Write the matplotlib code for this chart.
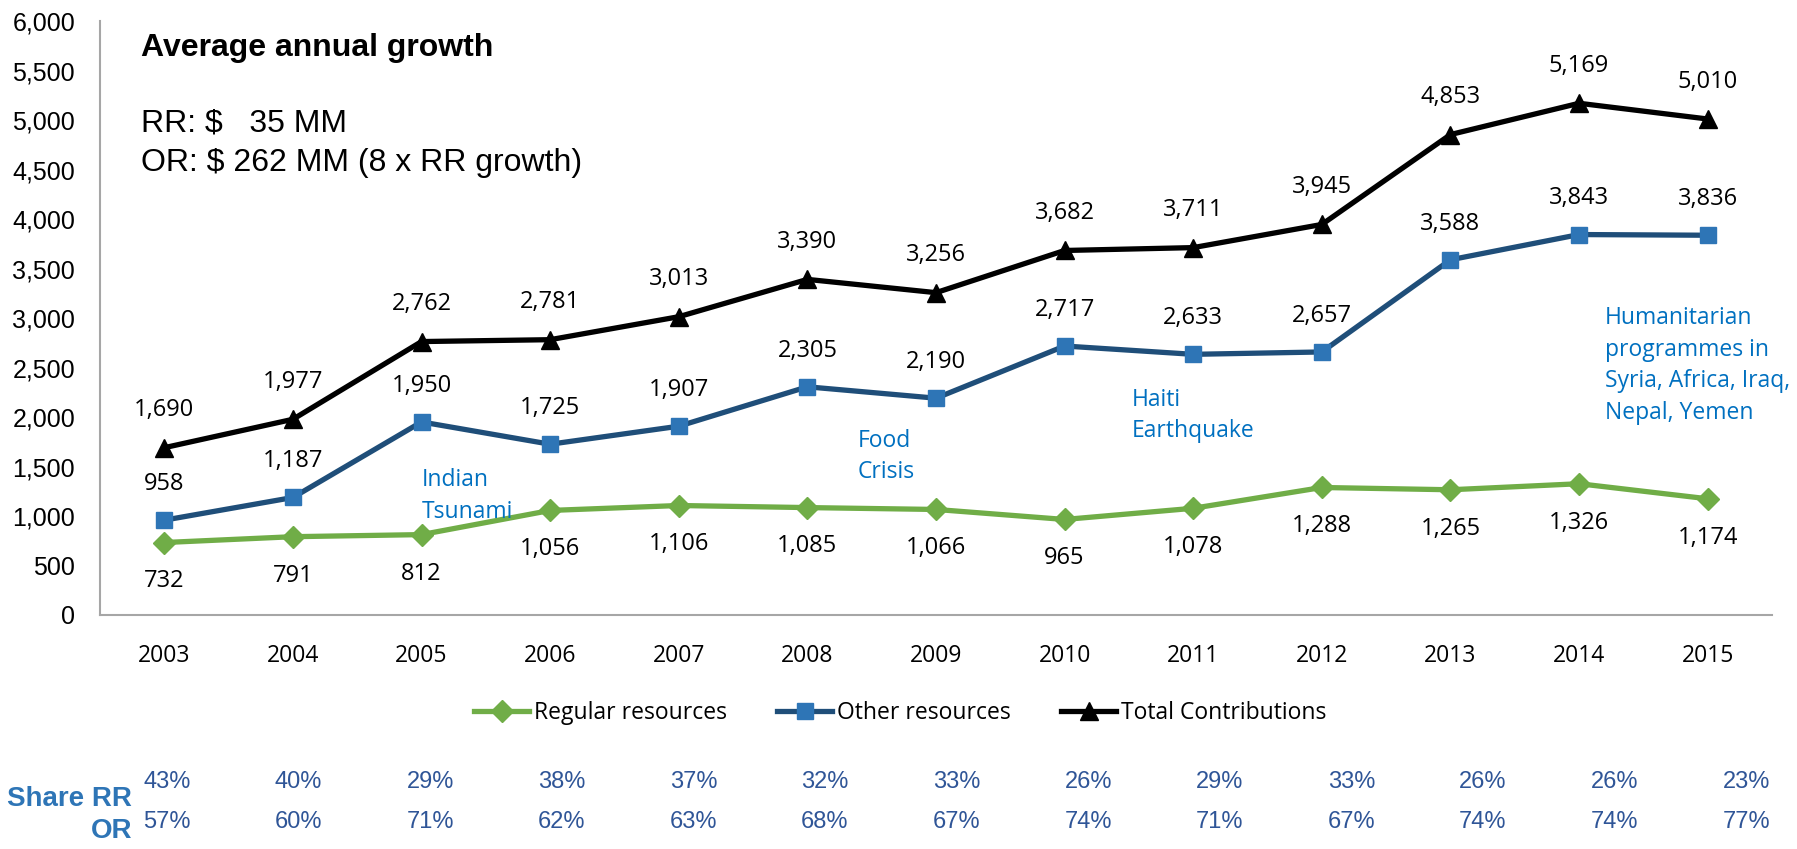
import matplotlib
matplotlib.use("Agg")
import matplotlib.pyplot as plt
from matplotlib.ticker import FuncFormatter, MultipleLocator

years = ["2003", "2004", "2005", "2006", "2007", "2008", "2009",
         "2010", "2011", "2012", "2013", "2014", "2015"]
regular = [732, 791, 812, 1056, 1106, 1085, 1066, 965, 1078, 1288, 1265, 1326, 1174]
other = [958, 1187, 1950, 1725, 1907, 2305, 2190, 2717, 2633, 2657, 3588, 3843, 3836]
total = [1690, 1977, 2762, 2781, 3013, 3390, 3256, 3682, 3711, 3945, 4853, 5169, 5010]
share_rr = ["43%", "40%", "29%", "38%", "37%", "32%", "33%", "26%", "29%", "33%", "26%", "26%", "23%"]
share_or = ["57%", "60%", "71%", "62%", "63%", "68%", "67%", "74%", "71%", "67%", "74%", "74%", "77%"]

events = [
    (2.0, 1200, "Indian\nTsunami"),
    (5.39, 1600, "Food\nCrisis"),
    (7.52, 2015, "Haiti\nEarthquake"),
    (11.2, 2520, "Humanitarian\nprogrammes in\nSyria, Africa, Iraq,\nNepal, Yemen"),
]

W, H = 1797, 849
fig = plt.figure(figsize=(W / 100, H / 100), dpi=100)
ax = fig.add_axes([100 / W, 1 - 615 / H, (1772 - 100) / W, (615 - 21) / H])

label_font = "Open Sans"
x = list(range(len(years)))

ax.plot(x, regular, "-D", color="#70AD47", lw=3.8, ms=11, mfc="#70AD47", mec="#70AD47",
        label="Regular resources", zorder=3)
ax.plot(x, other, "-s", color="#1F4E79", lw=3.8, ms=12, mfc="#2E75B6", mec="#2E75B6",
        label="Other resources", zorder=3)
ax.plot(x, total, "-^", color="black", lw=3.8, ms=13, label="Total Contributions", zorder=3)

for i in x:
    ax.annotate(f"{total[i]:,}", (i, total[i]), xytext=(0, 27), textcoords="offset points",
                ha="center", va="center", fontsize=17, family=label_font)
    ax.annotate(f"{other[i]:,}", (i, other[i]), xytext=(0, 26), textcoords="offset points",
                ha="center", va="center", fontsize=17, family=label_font)
    ax.annotate(f"{regular[i]:,}", (i, regular[i]), xytext=(0, -28), textcoords="offset points",
                ha="center", va="center", fontsize=17, family=label_font)

for ex, ey, txt in events:
    ax.text(ex, ey, txt, ha="left", va="center", fontsize=16.5, family=label_font,
            color="#0070C0", linespacing=1.42)

ax.set_xlim(-0.5, len(years) - 0.5)
ax.set_ylim(0, 6000)
ax.yaxis.set_major_locator(MultipleLocator(500))
ax.yaxis.set_major_formatter(FuncFormatter(lambda v, p: f"{int(v):,}"))
ax.set_xticks(x)
ax.set_xticklabels(years, family=label_font, fontsize=16.5)
for t in ax.get_yticklabels():
    t.set_family("Liberation Sans")
    t.set_fontsize(18)
ax.tick_params(axis="both", length=0)
ax.tick_params(axis="x", pad=21)
ax.tick_params(axis="y", pad=18)
for s in ["top", "right"]:
    ax.spines[s].set_visible(False)
for s in ["left", "bottom"]:
    ax.spines[s].set_color("#A6A6A6")
    ax.spines[s].set_linewidth(1.5)

leg = ax.legend(loc="center", bbox_to_anchor=(0.501, 0.16), bbox_transform=fig.transFigure,
                ncol=3, frameon=False, handlelength=2.4, handletextpad=0.2, columnspacing=2.2,
                prop={"family": label_font, "size": 16.5})

fig.text(141 / W, 1 - 48 / H, "Average annual growth", family="Liberation Sans",
         fontweight="bold", fontsize=23, va="center", ha="left")
fig.text(141 / W, 1 - 123 / H, "RR: $   35 MM", family="Liberation Sans",
         fontsize=23, va="center", ha="left")
fig.text(141 / W, 1 - 163 / H, "OR: $ 262 MM (8 x RR growth)", family="Liberation Sans",
         fontsize=23, va="center", ha="left")

for i in x:
    px = (167 + i * 131.6) / W
    fig.text(px, 1 - 782 / H, share_rr[i], family="Liberation Sans", fontsize=17,
             color="#2F5597", ha="center", va="center")
    fig.text(px, 1 - 822 / H, share_or[i], family="Liberation Sans", fontsize=17,
             color="#2F5597", ha="center", va="center")

fig.text(132 / W, 1 - 786 / H, "Share RR\nOR", family="Liberation Sans", fontweight="bold",
         fontsize=20, color="#2E75B6", ha="right", va="top", multialignment="right",
         linespacing=1.3)

fig.savefig("out.png", dpi=100)
